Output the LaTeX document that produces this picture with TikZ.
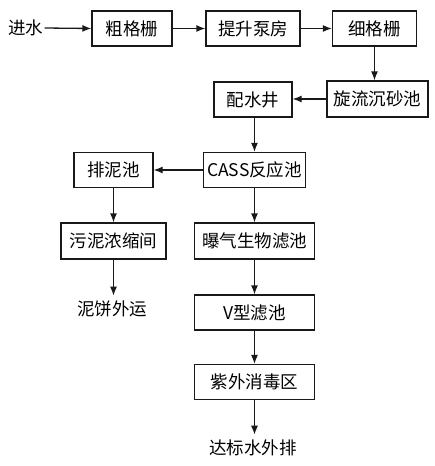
\documentclass[tikz,border=0pt]{standalone}
\usepackage{fontspec}
\setmainfont{Noto Sans CJK SC}
\usetikzlibrary{arrows.meta}
\tikzset{
  box/.style={draw=black!90, line width=1.3pt, inner sep=0pt, font=\fontsize{17.5}{18}\selectfont, text=black},
  lbl/.style={inner xsep=1pt, inner ysep=5pt, font=\fontsize{17.5}{18}\selectfont, text=black},
  flow/.style={draw=black!90, line width=1.3pt, -{Latex[length=9pt,width=7pt]}}
}
\begin{document}
\begin{tikzpicture}[x=1pt,y=-1pt]
\fill[white] (0,0) rectangle (434,466);
\useasboundingbox (0,0) rectangle (434,466);
\node[lbl] (in) at (26,28) {进水};
\node[box, minimum width=80pt, minimum height=35pt] (cu) at (132,28.5) {粗格栅};
\node[box, minimum width=94pt, minimum height=35pt] (ts) at (253,28.5) {提升泵房};
\node[box, minimum width=84pt, minimum height=35pt] (xi) at (374.5,28.5) {细格栅};
\node[box, minimum width=101pt, minimum height=36pt] (xl) at (377.5,99) {旋流沉砂池};
\node[box, minimum width=78pt, minimum height=35pt] (ps) at (253,99.5) {配水井};
\node[box, minimum width=102pt, minimum height=35pt] (cass) at (254.5,170) {CASS反应池};
\node[box, minimum width=79pt, minimum height=35pt] (pn) at (113.5,170) {排泥池};
\node[box, minimum width=105pt, minimum height=36pt] (wn) at (113.5,241) {污泥浓缩间};
\node[lbl] (nb) at (112,309) {泥饼外运};
\node[box, minimum width=120pt, minimum height=36pt] (bq) at (254.5,241) {曝气生物滤池};
\node[box, minimum width=120pt, minimum height=35pt] (vx) at (254.5,312.5) {V型滤池};
\node[box, minimum width=120pt, minimum height=35pt] (zw) at (254.5,382) {紫外消毒区};
\node[lbl] (db) at (253,448) {达标水外排};
\draw[flow] (in.east) -- (cu.west);
\draw[flow] (cu.east) -- (ts.west);
\draw[flow] (ts.east) -- (xi.west);
\draw[flow] (xi.south) -- (xi.south |- xl.north);
\draw[flow] (xl.west) -- (xl.west -| ps.east);
\draw[flow] (cass.north |- ps.south) -- (cass.north);
\draw[flow] (cass.west) -- (pn.east);
\draw[flow] (pn.south) -- (pn.south |- wn.north);
\draw[flow] (wn.south) -- (wn.south |- nb.north);
\draw[flow] (cass.south) -- (bq.north);
\draw[flow] (bq.south) -- (vx.north);
\draw[flow] (vx.south) -- (zw.north);
\draw[flow] (zw.south) -- (zw.south |- db.north);
\end{tikzpicture}
\end{document}
